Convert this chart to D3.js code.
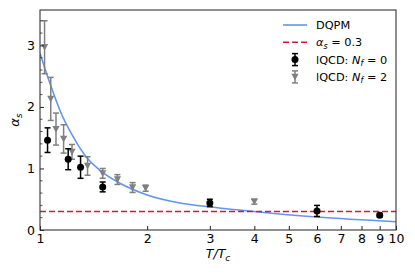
<!DOCTYPE html>
<html>
<head>
<meta charset="utf-8">
<script src="https://cdn.jsdelivr.net/npm/d3@7/dist/d3.min.js"></script>
<style>
  body { margin: 0; background: #fff; }
  svg { display: block; font-family: 'DejaVu Sans', sans-serif; }
</style>
</head>
<body>
<div id="chart"></div>
<script>
// DQPM curve
const dqpmT = [1.0, 1.076, 1.148, 1.238, 1.295, 1.36, 1.474, 1.677, 2.0, 2.47, 3.07, 4.0, 6.0, 10.0];
const dqpmAlpha = [2.87, 2.32, 1.89, 1.52, 1.33, 1.16, 0.97, 0.76, 0.57, 0.44, 0.37, 0.30, 0.21, 0.135];

// lattice QCD, Nf = 0
const nf0T = [1.05, 1.2, 1.3, 1.5, 3, 6, 9];
const nf0Alpha = [1.46, 1.15, 1.02, 0.70, 0.44, 0.31, 0.24];
const nf0Err = [0.20, 0.17, 0.18, 0.08, 0.06, 0.09, 0.03];

// lattice QCD, Nf = 2
const nf2T = [1.03, 1.072, 1.109, 1.165, 1.23, 1.36, 1.5, 1.65, 1.82, 1.98, 4.0];
const nf2Alpha = [2.97, 2.13, 1.64, 1.48, 1.27, 1.04, 0.92, 0.82, 0.69, 0.68, 0.46];
const nf2Err = [0.43, 0.35, 0.26, 0.23, 0.12, 0.15, 0.08, 0.08, 0.08, 0.05, 0.04];

const alphaConst = 0.3;

const xTicks = [1, 2, 3, 4, 5, 6, 7, 8, 9, 10];
const yTicks = [0, 1, 2, 3];
const yMinorTicks = d3.range(0, 3.6, 0.2);

const width = 415, height = 277;
const margin = { top: 10, right: 19, bottom: 47, left: 40 };
const chartWidth = width - margin.left - margin.right;
const chartHeight = height - margin.top - margin.bottom;

const svg = d3.select('#chart').append('svg')
    .attr('width', width)
    .attr('height', height);

const g = svg.append('g')
    .attr('transform', `translate(${margin.left},${margin.top})`);

const x = d3.scaleLog().domain([1, 10]).range([0, chartWidth]);
const y = d3.scaleLinear().domain([0, 3.575]).range([chartHeight, 0]);

svg.append('clipPath').attr('id', 'clip')
    .append('rect').attr('width', chartWidth).attr('height', chartHeight);

const plot = g.append('g').attr('clip-path', 'url(#clip)');

// DQPM line
const dqpm = dqpmT.map((t, i) => ({ t: t, a: dqpmAlpha[i] }));
const line = d3.line()
    .x(d => x(d.t))
    .y(d => y(d.a))
    .curve(d3.curveMonotoneX);

plot.append('path')
    .datum(dqpm)
    .attr('fill', 'none')
    .attr('stroke', '#6495ED')
    .attr('stroke-width', 1.6)
    .attr('d', line);

// constant coupling
plot.append('line')
    .attr('x1', 0).attr('x2', chartWidth)
    .attr('y1', y(alphaConst)).attr('y2', y(alphaConst))
    .attr('stroke', '#DC143C')
    .attr('stroke-width', 1.6)
    .attr('stroke-dasharray', '6,3');

function errorBars(sel, data, color) {
    const eb = sel.append('g').attr('stroke', color).attr('stroke-width', 1.5);
    data.forEach(d => {
        const cx = x(d.t);
        eb.append('line').attr('x1', cx).attr('x2', cx)
            .attr('y1', y(d.a - d.e)).attr('y2', y(d.a + d.e));
        eb.append('line').attr('x1', cx - 3).attr('x2', cx + 3)
            .attr('y1', y(d.a - d.e)).attr('y2', y(d.a - d.e));
        eb.append('line').attr('x1', cx - 3).attr('x2', cx + 3)
            .attr('y1', y(d.a + d.e)).attr('y2', y(d.a + d.e));
    });
}

const triangle = 'M-3.6,-3.2L3.6,-3.2L0,3.6Z';

// Nf = 2 (gray triangles)
const nf2 = nf2T.map((t, i) => ({ t: t, a: nf2Alpha[i], e: nf2Err[i] }));
errorBars(plot, nf2, '#808080');
plot.selectAll('.tri')
    .data(nf2)
    .enter()
    .append('path')
    .attr('d', triangle)
    .attr('transform', d => `translate(${x(d.t)},${y(d.a)})`)
    .attr('fill', '#808080');

// Nf = 0 (black circles)
const nf0 = nf0T.map((t, i) => ({ t: t, a: nf0Alpha[i], e: nf0Err[i] }));
errorBars(plot, nf0, '#000');
plot.selectAll('.dot')
    .data(nf0)
    .enter()
    .append('circle')
    .attr('cx', d => x(d.t))
    .attr('cy', d => y(d.a))
    .attr('r', 3.5)
    .attr('fill', '#000');

// axes, ticks pointing inward
const xAxis = d3.axisBottom(x)
    .tickValues(xTicks)
    .tickFormat(d3.format('d'))
    .tickSize(-4)
    .tickPadding(4);

const xg = g.append('g')
    .attr('transform', `translate(0,${chartHeight})`)
    .call(xAxis);

const yAxis = d3.axisLeft(y)
    .tickValues(yTicks)
    .tickFormat(d3.format('d'))
    .tickSize(-4)
    .tickPadding(5);

const yg = g.append('g').call(yAxis);

g.append('g')
    .selectAll('line')
    .data(yMinorTicks.filter(v => !yTicks.includes(Math.round(v * 10) / 10)))
    .enter()
    .append('line')
    .attr('x1', 0).attr('x2', 2.5)
    .attr('y1', d => y(d)).attr('y2', d => y(d))
    .attr('stroke', '#222')
    .attr('stroke-width', 0.8);

[xg, yg].forEach(ax => {
    ax.select('.domain').remove();
    ax.selectAll('.tick line').attr('stroke', '#222').attr('stroke-width', 1);
    ax.selectAll('.tick text')
        .attr('fill', '#000')
        .style('font-size', '12.5px')
        .style('font-family', "'DejaVu Sans', sans-serif");
});

g.append('rect')
    .attr('width', chartWidth)
    .attr('height', chartHeight)
    .attr('fill', 'none')
    .attr('stroke', '#333')
    .attr('stroke-width', 1.1);

// axis labels
const xLabel = svg.append('text')
    .attr('x', margin.left + chartWidth / 2)
    .attr('y', 258)
    .attr('text-anchor', 'middle')
    .style('font-size', '12.5px')
    .style('font-style', 'italic');
xLabel.append('tspan').text('T/T');
xLabel.append('tspan').attr('dy', 3).style('font-size', '9px').text('c');

const yLabel = svg.append('text')
    .attr('transform', `translate(19,${margin.top + chartHeight / 2}) rotate(-90)`)
    .attr('text-anchor', 'middle')
    .style('font-size', '13px')
    .style('font-style', 'italic');
yLabel.append('tspan').text('α');
yLabel.append('tspan').attr('dy', 3).style('font-size', '9px').text('s');

// legend
const legend = svg.append('g').attr('transform', 'translate(283,25)');
const rowH = 17.3;

legend.append('line')
    .attr('x1', 0).attr('x2', 24).attr('y1', 0).attr('y2', 0)
    .attr('stroke', '#6495ED').attr('stroke-width', 1.6);
legend.append('line')
    .attr('x1', 0).attr('x2', 24).attr('y1', rowH).attr('y2', rowH)
    .attr('stroke', '#DC143C').attr('stroke-width', 1.6)
    .attr('stroke-dasharray', '6,3');

[['#000', 2], ['#808080', 3]].forEach(([c, i]) => {
    const row = legend.append('g')
        .attr('transform', `translate(12,${i * rowH})`)
        .attr('stroke', c).attr('stroke-width', 1.5);
    row.append('line').attr('x1', 0).attr('x2', 0).attr('y1', -6).attr('y2', 6);
    row.append('line').attr('x1', -3).attr('x2', 3).attr('y1', -6).attr('y2', -6);
    row.append('line').attr('x1', -3).attr('x2', 3).attr('y1', 6).attr('y2', 6);
    if (i === 2) {
        row.append('circle').attr('r', 3.5).attr('fill', c).attr('stroke', 'none');
    } else {
        row.append('path').attr('d', triangle).attr('fill', c).attr('stroke', 'none');
    }
});

const legendText = (i) => legend.append('text')
    .attr('x', 33)
    .attr('y', i * rowH + 4)
    .style('font-size', '11.3px');

legendText(0).text('DQPM');

const t1 = legendText(1);
t1.append('tspan').style('font-style', 'italic').text('α');
t1.append('tspan').style('font-style', 'italic').style('font-size', '8px').attr('dy', 2.5).text('s');
t1.append('tspan').attr('dy', -2.5).text(' = 0.3');

[[2, '0'], [3, '2']].forEach(([i, n]) => {
    const t = legendText(i);
    t.append('tspan').text('lQCD: ');
    t.append('tspan').style('font-style', 'italic').text('N');
    t.append('tspan').style('font-style', 'italic').style('font-size', '8px').attr('dy', 2.5).text('f');
    t.append('tspan').attr('dy', -2.5).text(' = ' + n);
});
</script>
</body>
</html>
